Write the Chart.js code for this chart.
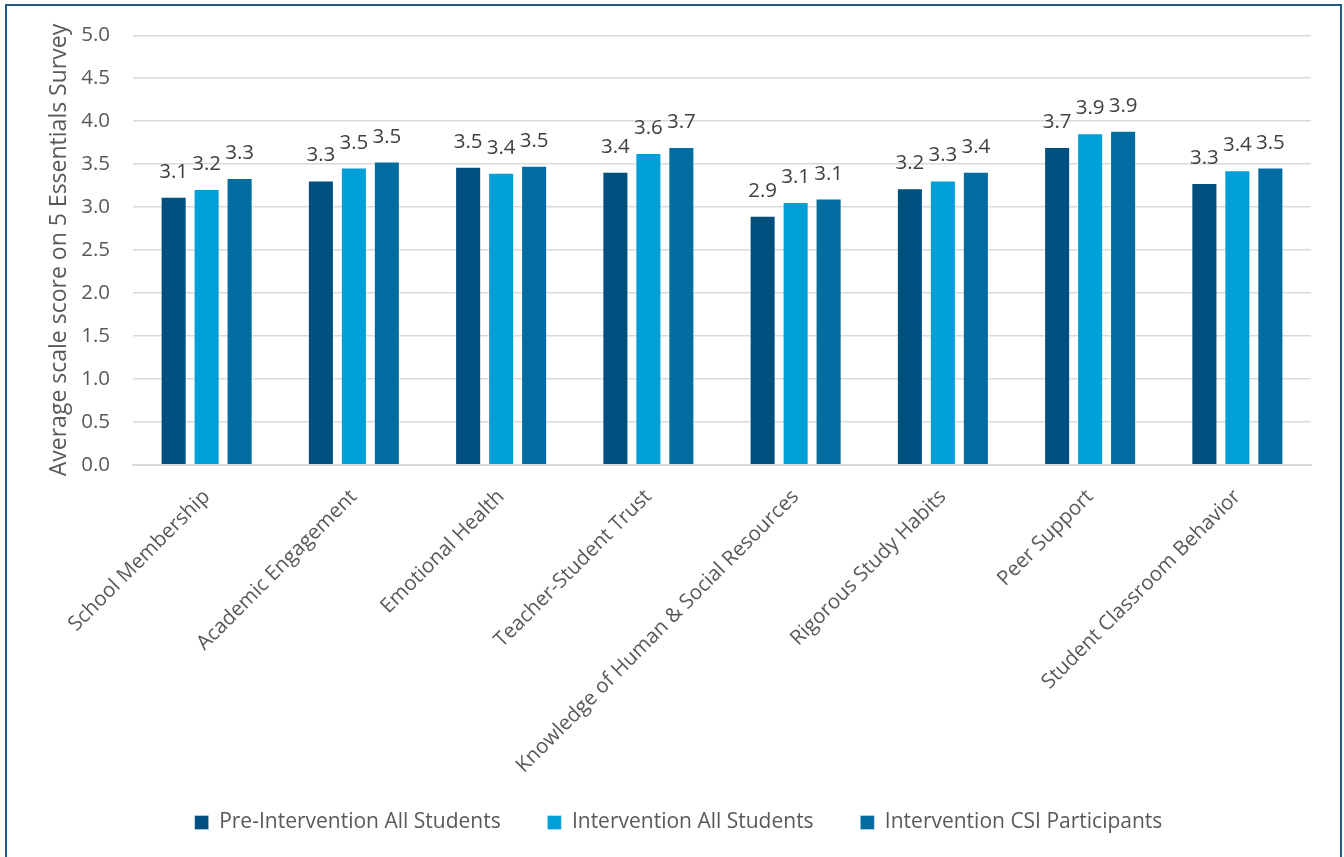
<!DOCTYPE html>
<html>
<head>
<meta charset="utf-8">
<script src="https://cdn.jsdelivr.net/npm/chart.js@4/dist/chart.umd.min.js"></script>
<style>
  html, body { margin: 0; padding: 0; background: #fff; overflow: hidden; }
  #wrap { position: absolute; left: 0; top: 0; width: 1344px; height: 857px; }
  #frame { position: absolute; left: 5px; top: 4px; width: 1333px; height: 900px; border: 2px solid #1d5a8a; pointer-events: none; }
</style>
</head>
<body>
<div id="wrap"><canvas id="chart" width="1344" height="857"></canvas></div>
<div id="frame"></div>
<script>
const categories = [
  'School Membership',
  'Academic Engagement',
  'Emotional Health',
  'Teacher-Student Trust',
  'Knowledge of Human & Social Resources',
  'Rigorous Study Habits',
  'Peer Support',
  'Student Classroom Behavior'
];
const preAll = [3.12, 3.31, 3.47, 3.41, 2.90, 3.22, 3.70, 3.28];
const intAll = [3.21, 3.46, 3.40, 3.63, 3.06, 3.31, 3.86, 3.43];
const intCsi = [3.34, 3.53, 3.48, 3.70, 3.10, 3.41, 3.89, 3.46];
const seriesNames = ['Pre-Intervention All Students', 'Intervention All Students', 'Intervention CSI Participants'];
const colors = ['#00507f', '#009fd7', '#006c9f'];

const font = "'Open Sans', 'Noto Sans', sans-serif";

// value labels above each bar
const barLabels = {
  id: 'barLabels',
  afterDatasetsDraw(chart) {
    const ctx = chart.ctx;
    ctx.save();
    ctx.font = '20.5px ' + font;
    ctx.fillStyle = '#404040';
    ctx.textAlign = 'center';
    ctx.textBaseline = 'alphabetic';
    chart.data.datasets.forEach((ds, i) => {
      chart.getDatasetMeta(i).data.forEach((bar, j) => {
        ctx.fillText(ds.data[j].toFixed(1), bar.x, bar.y - 19);
      });
    });
    ctx.restore();
  }
};

const datasets = [preAll, intAll, intCsi].map((vals, i) => ({
  label: seriesNames[i],
  data: vals,
  backgroundColor: colors[i],
  borderColor: 'rgba(255,255,255,0.35)',
  borderWidth: 1,
  categoryPercentage: 0.672,
  barPercentage: 0.79
}));

new Chart(document.getElementById('chart'), {
  type: 'bar',
  data: { labels: categories, datasets: datasets },
  options: {
    responsive: false,
    animation: false,
    layout: { padding: { left: 46, right: 33, top: 21, bottom: 14 } },
    scales: {
      x: {
        grid: { display: false, drawTicks: false },
        border: { color: '#d9d9d9', width: 2 },
        ticks: {
          color: '#595959',
          font: { family: font, size: 20.5 },
          minRotation: 45,
          maxRotation: 45,
          padding: 20
        },
        // rotated labels may hang past the plot's left edge
        afterFit: scale => { scale.paddingLeft = 0; }
      },
      y: {
        min: 0,
        max: 5,
        grid: { color: '#d9d9d9', lineWidth: 1.5, drawTicks: false },
        border: { display: false },
        ticks: {
          stepSize: 0.5,
          color: '#595959',
          font: { family: font, size: 20.5 },
          padding: 23,
          callback: v => v.toFixed(1)
        },
        title: {
          display: true,
          text: 'Average scale score on 5 Essentials Survey',
          color: '#595959',
          font: { family: font, size: 23 },
          padding: { top: 0, bottom: 5 }
        },
        afterFit: scale => { scale.width = 87; }
      }
    },
    plugins: {
      legend: {
        position: 'bottom',
        labels: {
          color: '#595959',
          font: { family: font, size: 21 },
          boxWidth: 14,
          boxHeight: 14,
          padding: 14,
          generateLabels: chart => Chart.defaults.plugins.legend.labels.generateLabels(chart).map((item, i, all) => {
            if (i < all.length - 1) item.text += '\u00a0'.repeat(6);
            return item;
          })
        }
      },
      tooltip: { enabled: false }
    }
  },
  plugins: [barLabels]
});
</script>
</body>
</html>
